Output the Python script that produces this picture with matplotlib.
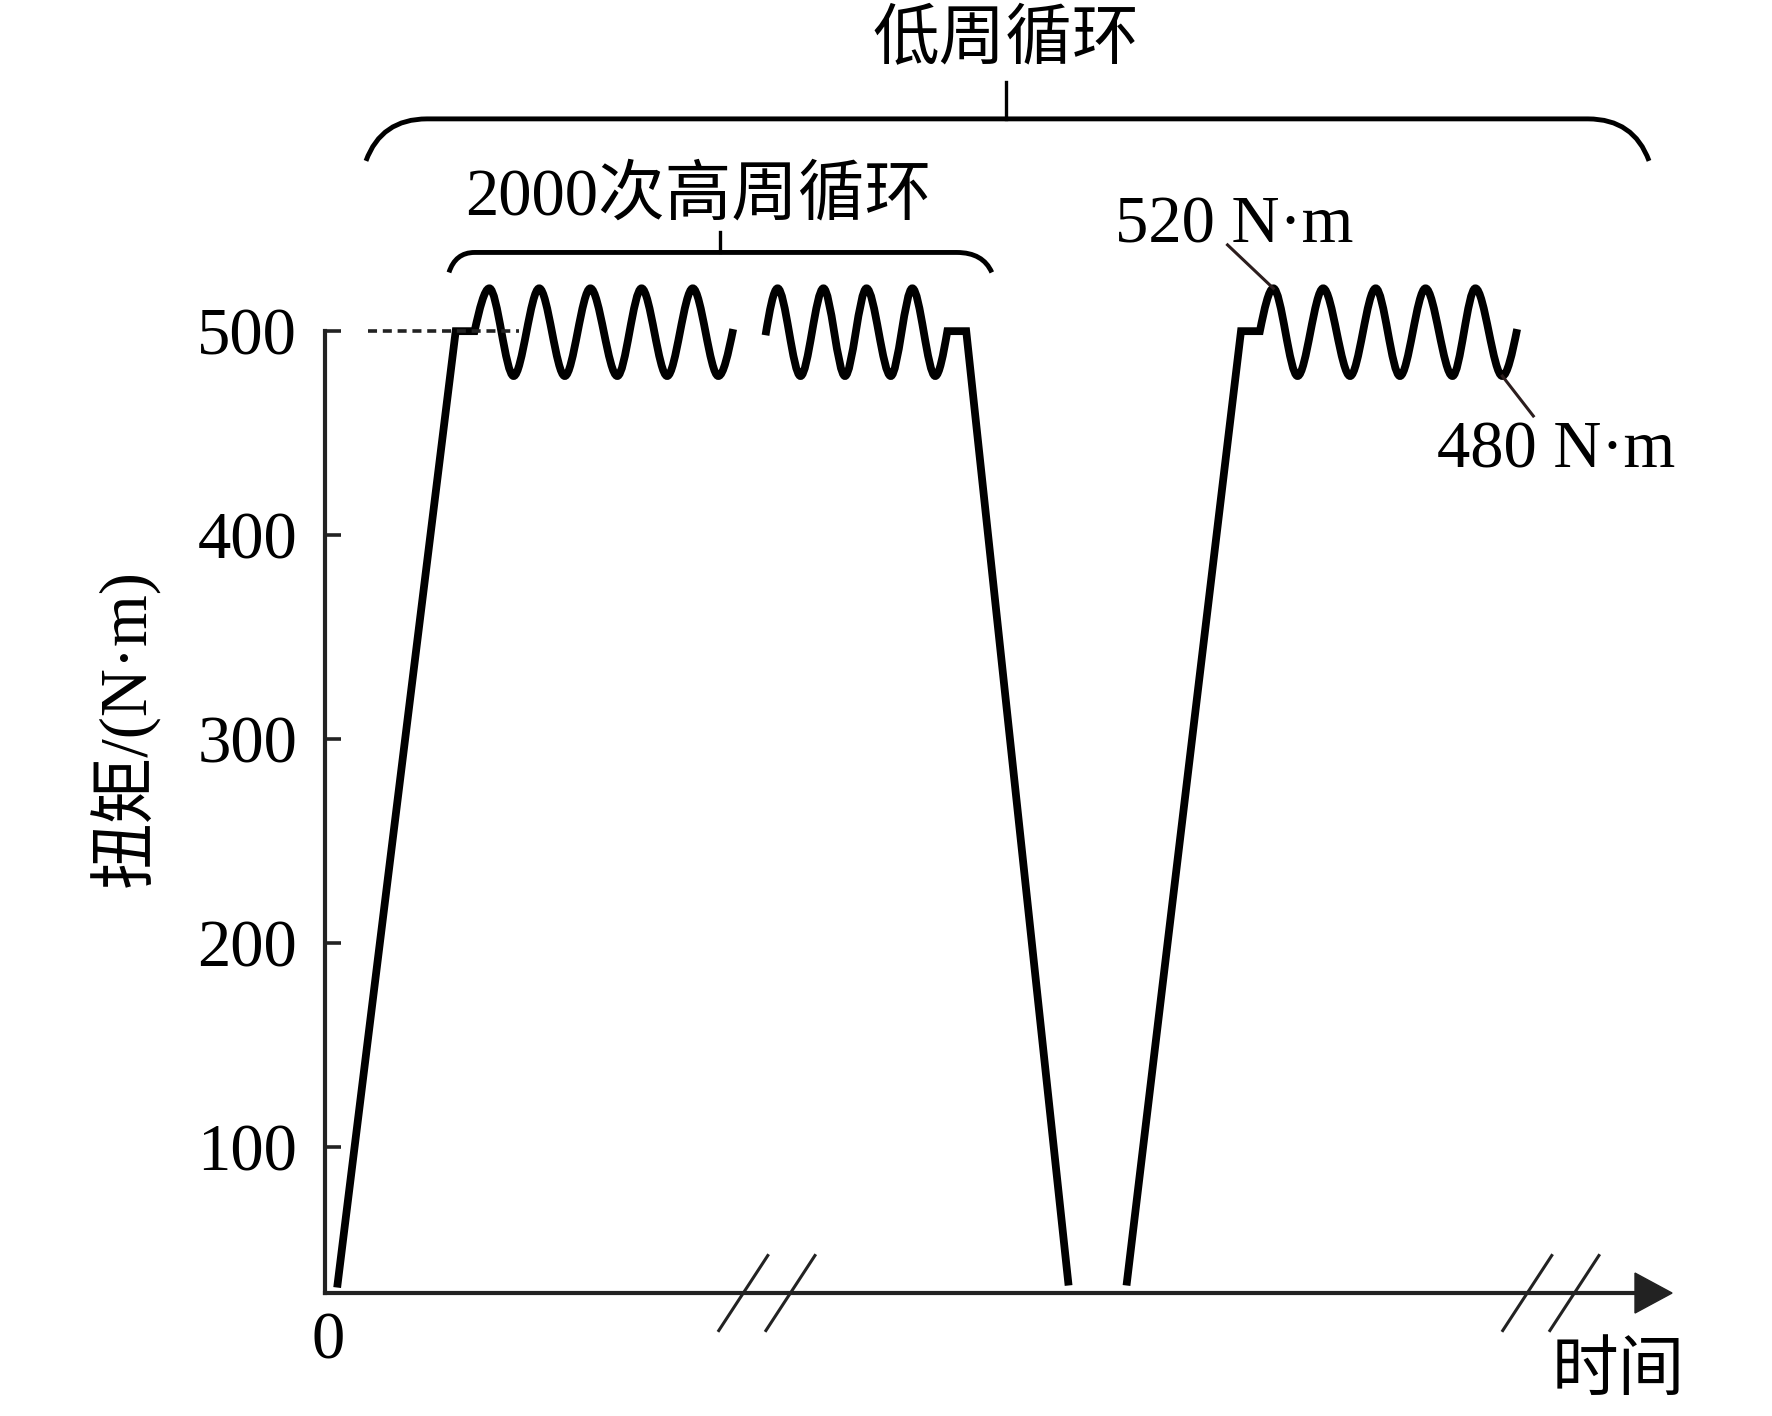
import numpy as np
import matplotlib.pyplot as plt
from matplotlib.path import Path
from matplotlib.patches import PathPatch, Polygon

plt.rcParams['font.family'] = ['Liberation Serif', 'Noto Sans CJK SC']

# torque axis
torque_ticks = [100, 200, 300, 400, 500]
base_torque = 28.3          # level where the time axis is drawn
mid_torque = 500

# block 1: ramp up, dwell, first high-cycle group
ramp1_t = [0.9, 9.7, 11.1]
ramp1_v = [31, 500, 500]
wave1_t = [12.2, 14.0, 15.9, 17.8, 19.7, 21.7, 23.5, 25.4, 27.3, 29.2, 30.3]
wave1_v = [521, 478, 521, 478, 521, 478, 521, 478, 521, 478, 501]

# block 2: last high-cycle group, dwell, unload
wave2_t = [32.7, 33.6, 35.3, 37.0, 38.6, 40.2, 42.0, 43.6, 45.3, 46.2]
wave2_v = [498, 521, 478, 521, 478, 521, 478, 521, 478, 500]
down_t = [47.6, 55.2]
down_v = [500, 32]

# block 3: next low cycle
ramp3_t = [59.5, 68.0, 69.4]
ramp3_v = [32, 500, 500]
wave3_t = [70.4, 72.2, 74.1, 76.1, 78.0, 79.8, 81.7, 83.7, 85.4, 87.4, 88.5]
wave3_v = [521, 478, 521, 478, 521, 478, 521, 478, 521, 478, 501]

break_t = [32.8, 91.0]


def load_path(pts, kinds):
    # 'L' = straight segment, 'C' = smooth half/quarter wave between extrema
    verts = [pts[0]]
    codes = [Path.MOVETO]
    for (x0, y0), (x1, y1), k in zip(pts[:-1], pts[1:], kinds[1:]):
        if k == 'L':
            verts.append((x1, y1))
            codes.append(Path.LINETO)
        else:
            dx = x1 - x0
            dy = y1 - y0
            c1 = y0 + 0.52 * dy if abs(y0 - mid_torque) < 5 else y0
            c2 = y1 - 0.52 * dy if abs(y1 - mid_torque) < 5 else y1
            verts += [(x0 + dx / 3, c1), (x0 + 2 * dx / 3, c2), (x1, y1)]
            codes += [Path.CURVE4] * 3
    return Path(verts, codes)


W, H = 1772, 1416
fig = plt.figure(figsize=(W / 100, H / 100), dpi=100)
ax = fig.add_axes([0, 0, 1, 1])
ax.set_xlim(-24.13, 107.42)
ax.set_ylim(-32.0, 662.4)

ax.spines['top'].set_visible(False)
ax.spines['right'].set_visible(False)
ax.spines['left'].set_position(('data', 0))
ax.spines['left'].set_bounds(base_torque, 500)
ax.spines['bottom'].set_position(('data', base_torque))
ax.spines['bottom'].set_bounds(0, 97.5)
for s in ['left', 'bottom']:
    ax.spines[s].set_linewidth(3.0)
    ax.spines[s].set_color('#222222')
ax.set_xticks([])
ax.set_yticks(torque_ticks)
ax.tick_params(axis='y', direction='in', length=11.5, width=2.6,
               pad=20, labelsize=48, color='#222222')

# arrow head of time axis
ax.add_patch(Polygon([(97.25, base_torque + 9.8), (100, base_torque),
                      (97.25, base_torque - 9.8)], closed=True,
                     color='#222222', clip_on=False))

# load curve
seg1 = list(zip(ramp1_t + wave1_t, ramp1_v + wave1_v))
kind1 = ['L'] * len(ramp1_t) + ['C'] * len(wave1_t)
seg2 = list(zip(wave2_t + down_t, wave2_v + down_v))
kind2 = ['C'] * len(wave2_t) + ['L'] * len(down_t)
seg3 = list(zip(ramp3_t + wave3_t, ramp3_v + wave3_v))
kind3 = ['L'] * len(ramp3_t) + ['C'] * len(wave3_t)
for pts, kinds in [(seg1, kind1), (seg2, kind2), (seg3, kind3)]:
    ax.add_patch(PathPatch(load_path(pts, kinds), fill=False, lw=5.6,
                           ec='black', joinstyle='miter', capstyle='butt'))

# 500 reference dashes
ax.plot([3.2, 14.4], [500, 500], ls=(0, (2.5, 1.6)), lw=2.6, color='#222222')

# axis breaks
for bt in break_t:
    for off in (-1.75, 1.75):
        ax.plot([bt + off - 1.82, bt + off + 1.82],
                [base_torque - 18.4, base_torque + 18.4],
                lw=2.2, color='#222222', clip_on=False)

# leaders to peak / trough
ax.plot([67.0, wave3_t[0]], [542.3, wave3_v[0]], lw=2.2, color='#2b1d1d')
ax.plot([wave3_t[9], 89.7], [wave3_v[9], 458.4], lw=2.2, color='#2b1d1d')


def brace(x0, x1, xf0, xf1, y_end, y_flat, x_stem, y_stem):
    k = 0.25
    verts = [(x0, y_end), (x0 + k * (xf0 - x0), y_flat), (xf0, y_flat),
             (xf1, y_flat), (x1 - k * (x1 - xf1), y_flat), (x1, y_end)]
    codes = [Path.MOVETO, Path.CURVE3, Path.CURVE3,
             Path.LINETO, Path.CURVE3, Path.CURVE3]
    ax.add_patch(PathPatch(Path(verts, codes), fill=False, lw=3.5, ec='black'))
    ax.plot([x_stem, x_stem], [y_flat, y_stem], lw=2.4, color='black')


brace(3.04, 98.29, 7.57, 93.76, 583.5, 604.1, 50.56, 622.2)
brace(9.2, 49.5, 11.1, 46.9, 528.8, 538.6, 29.32, 548.7)

fs = 48
ax.text(50.5, 641.8, '低周循环', fontsize=fs, ha='center', va='center')
ax.text(27.7, 565.3, '2000次高周循环', fontsize=fs, ha='center', va='center')
ax.text(67.5, 543.7, '520 N·m', fontsize=fs, ha='center', va='baseline')
ax.text(91.4, 432.9, '480 N·m', fontsize=fs, ha='center', va='baseline')
ax.text(0.2, -3.6, '0', fontsize=fs, ha='center', va='baseline')
ax.text(96.0, -11.0, '时间', fontsize=fs, ha='center', va='center')
ax.text(-14.85, 305.4, '扭矩/(N·m)', fontsize=fs, rotation=90,
        ha='center', va='center')

fig.savefig('out.png', dpi=100)
